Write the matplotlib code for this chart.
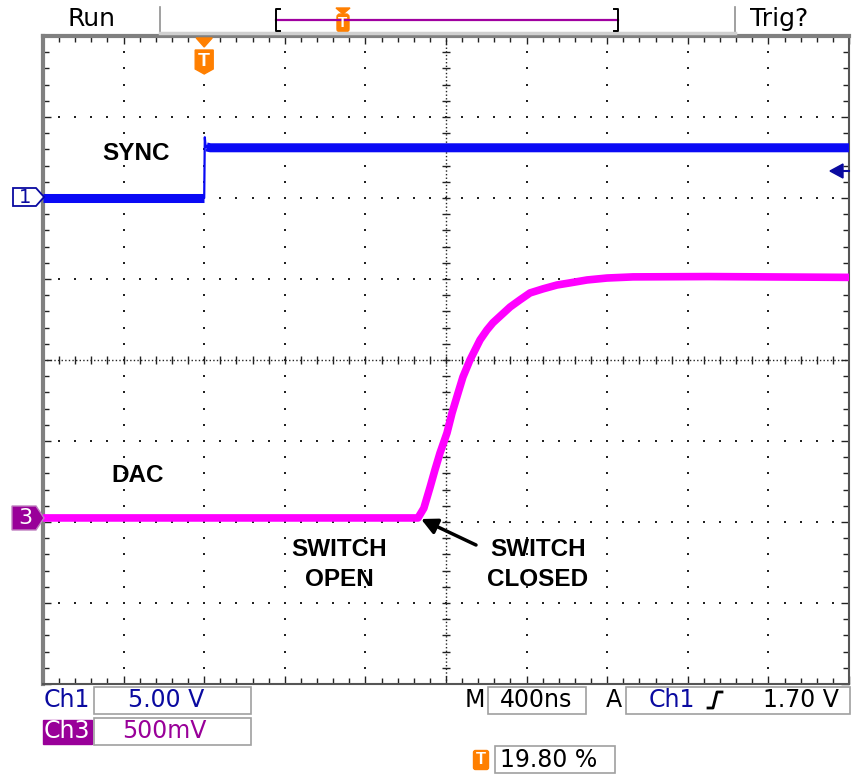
import numpy as np
import matplotlib
matplotlib.use("Agg")
import matplotlib.pyplot as plt
from matplotlib.patches import Polygon, Rectangle, FancyBboxPatch
from matplotlib.ticker import MultipleLocator

# ---------------- data ----------------
# time in ns from left edge of screen (400 ns/div, 10 div)
sync_t = [0, 800, 803, 806, 812, 830, 4000]
sync_v = [0.0, 0.0, 3.75, 3.3, 3.15, 3.1, 3.1]          # volts, Ch1 5.00 V/div

dac_t = [0, 1861, 1890, 1921, 1945, 1970, 2005, 2030, 2045, 2060, 2084, 2119,
         2144, 2169, 2203, 2233, 2268, 2318, 2367, 2417, 2481, 2551, 2615,
         2700, 2799, 2928, 3300, 4000]
dac_v = [0.0, 0.0, 0.06, 0.19, 0.296, 0.40, 0.525, 0.648, 0.71, 0.772, 0.87, 0.975,
         1.037, 1.099, 1.16, 1.205, 1.245, 1.302, 1.346, 1.389, 1.414, 1.438, 1.451,
         1.469, 1.481, 1.488, 1.49, 1.485]                 # volts, Ch3 500 mV/div

ch1_scale, ch3_scale = 5.0, 0.5
ch1_offset, ch3_offset = 2.0, -1.95
trig_t = 800

labels_status = {"ch1": "5.00 V", "ch3": "500mV", "timebase": "400ns",
                 "trig_level": "1.70 V", "trig_pos": "19.80 %"}

BLUE = "#0A0AF5"
MAG = "#FF00FF"
PURPLE = "#990099"
ORANGE = "#FF7F00"
DBLUE = "#0A0AA0"

# ---------------- figure ----------------
fig = plt.figure(figsize=(8.52, 7.74), dpi=100)
W, H = 852, 774
L, R, T, B = 43, 849, 36, 684
ax = fig.add_axes([L / W, (H - B) / H, (R - L) / W, (B - T) / H])
ax.set_xlim(0, 4000)
ax.set_ylim(-4, 4)
ax.set_facecolor("white")

# grid dots
dot_kw = dict(ls="none", marker="s", ms=1.5, color="#222222", mew=0)
ys = np.arange(-4, 4.001, 0.2)
xs = np.arange(0, 4000.1, 80)
for k in range(1, 10):
    if k == 5:
        continue
    ax.plot(np.full_like(ys, k * 400.0), ys, **dot_kw)
for j in range(-3, 4):
    if j == 0:
        continue
    ax.plot(xs, np.full_like(xs, float(j)), **dot_kw)

# centre lines with cross ticks
ax.plot([0, 4000], [0, 0], color="#222222", lw=1, ls=(0, (1, 1.6)))
ax.plot([2000, 2000], [-4, 4], color="#222222", lw=1, ls=(0, (1, 1.6)))
ax.plot(xs, np.zeros_like(xs), ls="none", marker="|", ms=6, mew=1, color="#222222")
ax.plot(np.full_like(ys, 2000.0), ys, ls="none", marker="_", ms=6, mew=1, color="#222222")

# edge ticks
ax.xaxis.set_minor_locator(MultipleLocator(80))
ax.yaxis.set_minor_locator(MultipleLocator(0.2))
ax.xaxis.set_major_locator(MultipleLocator(400))
ax.yaxis.set_major_locator(MultipleLocator(1))
ax.tick_params(which="both", direction="in", top=True, right=True, bottom=True, left=True,
               labelbottom=False, labelleft=False, color="#222222")
ax.tick_params(which="minor", length=4, width=1)
ax.tick_params(which="major", length=6, width=1)
for s in ["left", "top"]:
    ax.spines[s].set_color("#808080")
    ax.spines[s].set_linewidth(3)
for s in ["right", "bottom"]:
    ax.spines[s].set_color("#555555")
    ax.spines[s].set_linewidth(1.5)

# traces
sv = ch1_offset + np.array(sync_v) / ch1_scale
ax.plot(sync_t, sv, color=BLUE, lw=1.6, zorder=4)
ax.plot(sync_t[:2], sv[:2], color=BLUE, lw=6.5, solid_capstyle="butt", zorder=4)
ax.plot(sync_t[4:], sv[4:], color=BLUE, lw=6.5, solid_capstyle="butt", zorder=4)

dv = ch3_offset + np.array(dac_v) / ch3_scale
ax.plot(dac_t, dv, color=MAG, lw=5.5, solid_joinstyle="round", zorder=4)

# ---------------- overlay in pixel coordinates ----------------
ov = fig.add_axes([0, 0, 1, 1], zorder=10)
ov.set_xlim(0, W)
ov.set_ylim(H, 0)
ov.axis("off")
ov.patch.set_alpha(0)

nar = ["Liberation Sans Narrow", "DejaVu Sans"]
bold = ["Liberation Sans", "DejaVu Sans"]

# header
ov.text(92, 19, "Run", fontsize=18, family=nar, ha="center", va="center")
ov.text(779, 19, "Trig?", fontsize=18, family=nar, ha="center", va="center")
ov.plot([160, 160], [7, 34], color="#909090", lw=1.2)
ov.plot([735, 735], [7, 34], color="#909090", lw=1.2)
ov.plot([160, 735], [33, 33], color="#d0d0d0", lw=2.5)
# record bar
ov.plot([276, 618], [20, 20], color="#A000A0", lw=1.6)
ov.plot([280, 276, 276, 280], [9, 9, 31, 31], color="black", lw=1.4)
ov.plot([614, 618, 618, 614], [9, 9, 31, 31], color="black", lw=1.4)
ov.add_patch(Polygon([[336, 8], [350, 8], [343, 14]], closed=True, color=ORANGE))
ov.add_patch(FancyBboxPatch((338, 15), 10, 16, boxstyle="round,pad=1,rounding_size=3",
                            color=ORANGE))
ov.text(343, 23, "T", color="white", fontsize=11, fontweight="bold", ha="center",
        va="center", family=bold)

# trigger marker on screen
tx = L + (trig_t / 4000) * (R - L)
ov.add_patch(Polygon([[tx - 8, 38], [tx + 8, 38], [tx, 47]], closed=True, color=ORANGE))
ov.add_patch(Polygon([[tx - 9, 50], [tx + 9, 50], [tx + 9, 69], [tx, 74], [tx - 9, 69]],
                     closed=True, color=ORANGE))
ov.text(tx, 61, "T", color="white", fontsize=14, fontweight="bold", ha="center",
        va="center", family=bold)

# channel markers
ov.add_patch(Polygon([[13, 188], [36, 188], [44, 197], [36, 206], [13, 206]], closed=True,
                     facecolor="white", edgecolor=DBLUE, lw=1.3))
ov.text(25, 197.5, "1", color=DBLUE, fontsize=14, family=nar, ha="center", va="center")
ov.add_patch(Polygon([[12, 506], [36, 506], [44, 518], [36, 530], [12, 530]], closed=True,
                     facecolor=PURPLE, edgecolor="#c080c0", lw=1))
ov.text(25, 518.5, "3", color="white", fontsize=16, family=nar, ha="center", va="center")

# trigger level arrow
ov.add_patch(Polygon([[830, 171], [843, 164], [843, 178]], closed=True, color=DBLUE))
ov.plot([843, 849], [171, 171], color=DBLUE, lw=1.5)

# annotations
tk = dict(fontsize=17.5, fontweight="bold", family=bold, ha="center", va="center")
ov.text(136, 153, "SYNC", **tk)
ov.text(138, 476, "DAC", **tk)
ov.text(339, 549, "SWITCH", **tk)
ov.text(339, 579, "OPEN", **tk)
ov.text(538, 549, "SWITCH", **tk)
ov.text(538, 579, "CLOSED", **tk)
ov.annotate("", xy=(421, 519), xytext=(476, 545),
            arrowprops=dict(arrowstyle="-|>", color="black", lw=2.5, mutation_scale=24,
                            shrinkA=0, shrinkB=0))

# status bar
sk = dict(fontsize=17, family=nar, va="center")
boxc = "#a0a0a0"
ov.text(67, 700, "Ch1", color=DBLUE, ha="center", **sk)
ov.add_patch(Rectangle((94, 687), 157, 27, fill=False, edgecolor=boxc, lw=1.2))
ov.text(166, 700, labels_status["ch1"], color=DBLUE, ha="center", **sk)
ov.add_patch(Rectangle((43, 720), 49, 24, color=PURPLE))
ov.text(67, 731, "Ch3", color="white", ha="center", **sk)
ov.add_patch(Rectangle((94, 718), 157, 27, fill=False, edgecolor=boxc, lw=1.2))
ov.text(164, 731, labels_status["ch3"], color=PURPLE, ha="center", **sk)

ov.text(475, 700, "M", color="black", ha="center", **sk)
ov.add_patch(Rectangle((488, 687), 98, 27, fill=False, edgecolor=boxc, lw=1.2))
ov.text(536, 700, labels_status["timebase"], color="black", ha="center", **sk)
ov.text(614, 700, "A", color="black", ha="center", **sk)
ov.add_patch(Rectangle((626, 687), 224, 27, fill=False, edgecolor=boxc, lw=1.2))
ov.text(672, 700, "Ch1", color=DBLUE, ha="center", **sk)
ov.plot([708, 713, 717, 722], [708, 708, 692, 692], color="black", lw=2)
ov.text(801, 700, labels_status["trig_level"], color="black", ha="center", **sk)

ov.add_patch(FancyBboxPatch((474, 751), 14, 18, boxstyle="round,pad=0.5,rounding_size=2",
                            color=ORANGE))
ov.text(481, 760, "T", color="white", fontsize=12, fontweight="bold", ha="center",
        va="center", family=bold)
ov.add_patch(Rectangle((495, 746), 120, 27, fill=False, edgecolor=boxc, lw=1.2))
ov.text(549, 760, labels_status["trig_pos"], color="black", ha="center", **sk)

fig.savefig("out.png", dpi=100)
